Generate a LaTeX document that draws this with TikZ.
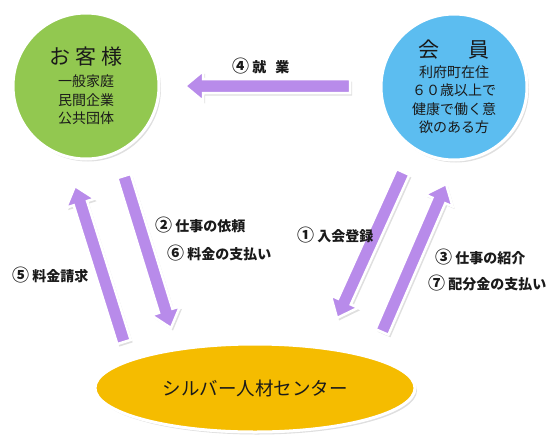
\documentclass[tikz,border=0pt]{standalone}
\usepackage{fontspec}
\setmainfont{Noto Sans CJK JP}
\usetikzlibrary{calc,shadows,shapes.geometric}
\definecolor{grn}{HTML}{92C850}
\definecolor{blu}{HTML}{5CBDF0}
\definecolor{gld}{HTML}{F5BC00}
\definecolor{arr}{HTML}{B88BEA}
\definecolor{txt}{HTML}{1A1A1A}
\newcommand\bigf{\fontsize{21}{24}\selectfont}
\newcommand\smf{\fontsize{14}{18.5}\selectfont}
\newcommand\cn[1]{{\fontsize{17}{16}\selectfont #1}}
\tikzset{
  softshadow/.style={drop shadow={opacity=0.25, shadow xshift=2pt, shadow yshift=-2.5pt}},
  arrowbody/.style={fill=arr, draw=white, line width=2.5pt, line join=miter, softshadow},
  circ/.style={circle, draw=white, line width=3pt, minimum size=146pt, inner sep=0pt,
    softshadow, text=txt, align=center},
  lbl/.style={font=\bfseries\fontsize{14}{16}\selectfont, inner sep=0pt, anchor=west, text=txt}
}
\newcommand\blockarrow[2]{%
  \coordinate (#1b) at ($(#2)!18pt!(#1)$);
  \path[arrowbody] ($(#1)!7pt!90:(#2)$) -- ($(#1b)!7pt!90:(#2)$) -- ($(#1b)!15pt!90:(#2)$)
    -- (#2) -- ($(#1b)!15pt!-90:(#2)$) -- ($(#1b)!7pt!-90:(#2)$) -- ($(#1)!7pt!-90:(#2)$) -- cycle;}
\begin{document}
\begin{tikzpicture}[x=1pt,y=-1pt]
\useasboundingbox (0,0) rectangle (557,445);
% nodes
\node[circ, fill=grn] (cust) at (86,86)
  {\bigf お\hspace{5pt}客\hspace{5pt}様\\[7pt]
   \smf 一般家庭\\[5pt]\smf 民間企業\\[5pt]\smf 公共団体};
\node[circ, fill=blu] (mem) at (454,87)
  {\bigf 会\hspace{30pt}員\\[5pt]
   \smf 利府町在住\\[4.5pt]\smf ６０歳以上で\\[4.5pt]\smf 健康で働く意\\[4.5pt]\smf 欲のある方};
\node[ellipse, draw=white, line width=3pt, fill=gld, minimum width=320pt, minimum height=88pt,
  softshadow, text=txt, font=\fontsize{18.5}{20}\selectfont] (center) at (255,388) {シルバー人材センター};
% arrow end points
\coordinate (a4t) at (350,86);  \coordinate (a4p) at (185,86);
\coordinate (a5t) at (124,342); \coordinate (a5p) at (75,186);
\coordinate (a2t) at (124,176); \coordinate (a2p) at (171,328);
\coordinate (a1t) at (403,172); \coordinate (a1p) at (337,318);
\coordinate (a3t) at (382,332); \coordinate (a3p) at (446,184);
\blockarrow{a4t}{a4p}
\blockarrow{a5t}{a5p}
\blockarrow{a2t}{a2p}
\blockarrow{a1t}{a1p}
\blockarrow{a3t}{a3p}
% labels
\node[lbl] (l4) at (232,66) {\cn{④} 就\hspace{9pt}業};
\node[lbl] (l2) at (155,225) {\cn{②} 仕事の依頼};
\node[lbl] (l6) at (167,253) {\cn{⑥} 料金の支払い};
\node[lbl] (l5) at (12,275) {\cn{⑤} 料金請求};
\node[lbl] (l1) at (297,235) {\cn{①} 入会登録};
\node[lbl] (l3) at (435,257) {\cn{③} 仕事の紹介};
\node[lbl] (l7) at (428,283) {\cn{⑦} 配分金の支払い};
\end{tikzpicture}
\end{document}
